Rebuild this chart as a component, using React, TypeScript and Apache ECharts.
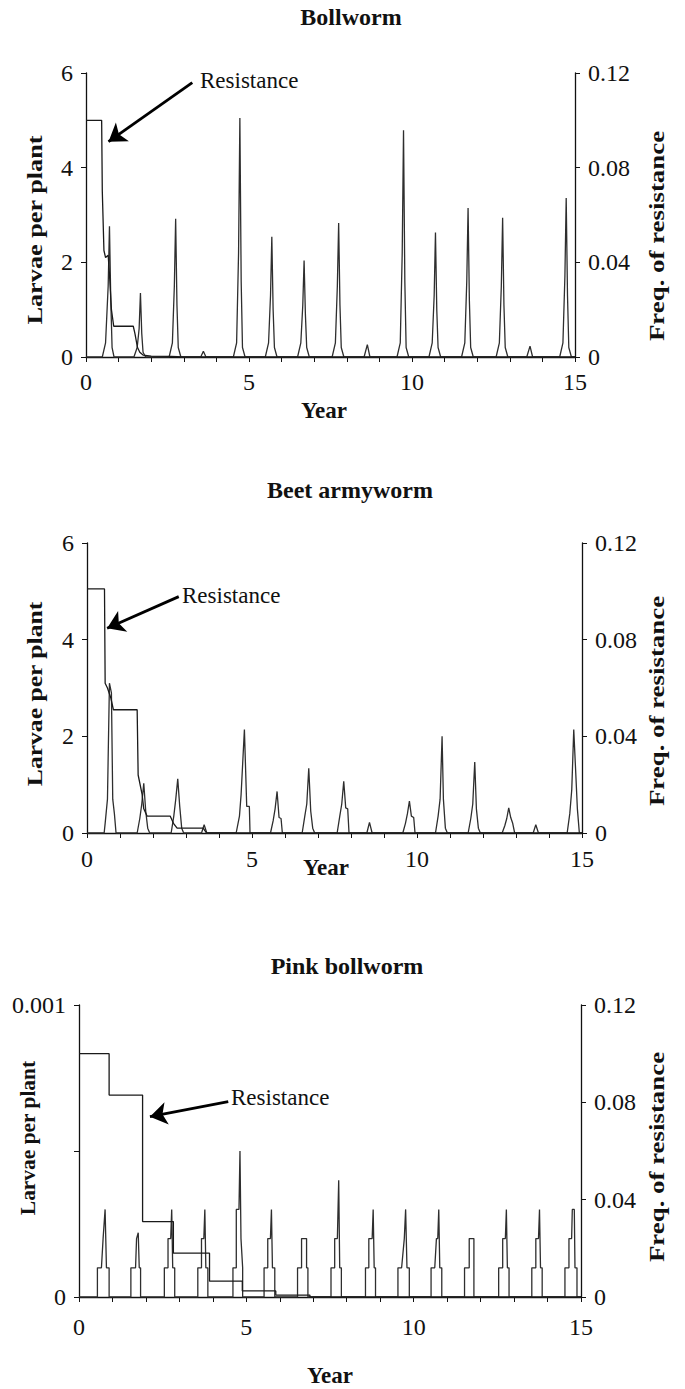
import React, { useEffect, useRef } from "react";
import * as echarts from "echarts";

const FONT = "Liberation Serif";

const panelTitles = ["Bollworm", "Beet armyworm", "Pink bollworm"];
const xTickLabels = [0, 5, 10, 15];
const rightTicks = [0, 0.04, 0.08, 0.12];

// Bollworm larvae per plant [year, larvae]
const bollwormLarvae: number[][] = [
  [0, 0], [0.5, 0], [0.6, 0.3], [0.68, 1.5], [0.72, 2.76], [0.76, 1.2], [0.8, 0.2], [0.86, 0],
  [1.47, 0], [1.57, 0.2], [1.63, 0.6], [1.67, 1.35], [1.71, 0.5], [1.75, 0.1], [1.83, 0],
  [2.55, 0], [2.65, 0.3], [2.71, 1.5], [2.75, 2.92], [2.79, 1.1], [2.83, 0.2], [2.91, 0],
  [3.52, 0], [3.6, 0.12], [3.68, 0],
  [4.52, 0], [4.62, 0.3], [4.68, 2.2], [4.72, 5.05], [4.76, 1.6], [4.8, 0.2], [4.88, 0],
  [5.5, 0], [5.6, 0.3], [5.66, 1.3], [5.7, 2.54], [5.74, 1.0], [5.78, 0.2], [5.86, 0],
  [6.49, 0], [6.59, 0.3], [6.65, 1.1], [6.69, 2.04], [6.73, 0.9], [6.77, 0.2], [6.85, 0],
  [7.55, 0], [7.65, 0.3], [7.71, 1.5], [7.75, 2.83], [7.79, 1.1], [7.83, 0.2], [7.91, 0],
  [8.53, 0], [8.63, 0.26], [8.71, 0],
  [9.54, 0], [9.64, 0.3], [9.7, 2.2], [9.74, 4.79], [9.78, 1.6], [9.82, 0.2], [9.9, 0],
  [10.52, 0], [10.62, 0.3], [10.68, 1.3], [10.72, 2.63], [10.76, 1.0], [10.8, 0.2], [10.88, 0],
  [11.52, 0], [11.62, 0.3], [11.68, 1.6], [11.72, 3.15], [11.76, 1.2], [11.8, 0.2], [11.88, 0],
  [12.58, 0], [12.68, 0.3], [12.74, 1.5], [12.78, 2.94], [12.82, 1.1], [12.86, 0.2], [12.94, 0],
  [13.52, 0], [13.62, 0.23], [13.7, 0],
  [14.53, 0], [14.63, 0.3], [14.69, 1.7], [14.73, 3.36], [14.77, 1.3], [14.81, 0.2], [14.89, 0], [15, 0],
];

// Bollworm frequency of resistance [year, freq]
const bollwormResistance: number[][] = [
  [0, 0.1], [0.48, 0.1], [0.5, 0.07], [0.55, 0.045], [0.6, 0.042], [0.68, 0.043], [0.72, 0.035],
  [0.78, 0.02], [0.85, 0.013], [1.45, 0.013], [1.5, 0.01], [1.58, 0.004], [1.65, 0.002],
  [1.75, 0.0008], [2.0, 0.0004], [2.6, 0.0003], [3.0, 0], [15, 0],
];

// Beet armyworm larvae per plant
const beetLarvae: number[][] = [
  [0, 0], [0.52, 0], [0.55, 0.2], [0.62, 0.7], [0.68, 3.1], [0.74, 2.9], [0.78, 0.7], [0.83, 0.4], [0.88, 0],
  [1.52, 0], [1.6, 0.3], [1.66, 0.6], [1.72, 1.03], [1.78, 0.45], [1.84, 0.1], [1.9, 0],
  [2.55, 0], [2.63, 0.35], [2.69, 0.7], [2.75, 1.12], [2.81, 0.55], [2.87, 0.1], [2.93, 0],
  [3.47, 0], [3.55, 0.17], [3.63, 0],
  [4.52, 0], [4.62, 0.35], [4.67, 0.8], [4.77, 2.14], [4.84, 0.55], [4.92, 0.55], [4.94, 0],
  [5.56, 0], [5.64, 0.25], [5.7, 0.5], [5.76, 0.86], [5.82, 0.32], [5.88, 0.3], [5.92, 0],
  [6.52, 0], [6.6, 0.35], [6.66, 0.6], [6.72, 1.34], [6.78, 0.45], [6.84, 0.1], [6.9, 0],
  [7.58, 0], [7.66, 0.35], [7.72, 0.6], [7.78, 1.07], [7.84, 0.52], [7.9, 0.5], [7.94, 0],
  [8.48, 0], [8.56, 0.22], [8.64, 0],
  [9.57, 0], [9.65, 0.2], [9.71, 0.4], [9.77, 0.66], [9.83, 0.35], [9.9, 0.32], [9.94, 0],
  [10.56, 0], [10.64, 0.35], [10.7, 0.7], [10.76, 2.0], [10.8, 0.7], [10.86, 0.1], [10.92, 0],
  [11.55, 0], [11.63, 0.3], [11.69, 0.6], [11.75, 1.47], [11.8, 0.5], [11.86, 0.1], [11.92, 0],
  [12.58, 0], [12.66, 0.15], [12.72, 0.3], [12.78, 0.52], [12.84, 0.32], [12.9, 0.2], [12.96, 0],
  [13.52, 0], [13.6, 0.17], [13.68, 0],
  [14.55, 0], [14.63, 0.4], [14.69, 0.9], [14.75, 2.14], [14.8, 1.4], [14.86, 0.5], [14.92, 0], [15, 0],
];

// Beet armyworm frequency of resistance
const beetResistance: number[][] = [
  [0, 0.101], [0.53, 0.101], [0.55, 0.062], [0.62, 0.06], [0.72, 0.056], [0.8, 0.051],
  [1.52, 0.051], [1.55, 0.024], [1.67, 0.016], [1.72, 0.01], [1.82, 0.007], [2.52, 0.007],
  [2.62, 0.004], [2.73, 0.002], [3.52, 0.002], [3.62, 0], [15, 0],
];

// Pink bollworm larvae per plant
const pinkLarvae: number[][] = [
  [0, 0], [0.55, 0], [0.55, 1e-4], [0.67, 1e-4], [0.72, 2e-4], [0.78, 3e-4], [0.82, 1e-4], [0.9, 1e-4], [0.9, 0],
  [1.55, 0], [1.55, 1e-4], [1.69, 1e-4], [1.72, 2e-4], [1.77, 2.2e-4], [1.8, 1e-4], [1.84, 1e-4], [1.84, 0],
  [2.55, 0], [2.55, 1e-4], [2.66, 1e-4], [2.66, 2e-4], [2.74, 2e-4], [2.77, 3e-4], [2.8, 1e-4], [2.86, 1e-4], [2.86, 0],
  [3.55, 0], [3.55, 1e-4], [3.66, 1e-4], [3.66, 2e-4], [3.73, 2e-4], [3.76, 3e-4], [3.79, 1e-4], [3.85, 1e-4], [3.85, 0],
  [4.6, 0], [4.6, 1e-4], [4.7, 1e-4], [4.7, 3e-4], [4.78, 3e-4], [4.81, 5e-4], [4.84, 2e-4], [4.89, 1e-4], [4.89, 0],
  [5.53, 0], [5.53, 1e-4], [5.64, 1e-4], [5.64, 2e-4], [5.72, 2e-4], [5.75, 3e-4], [5.78, 1e-4], [5.85, 1e-4], [5.85, 0],
  [6.53, 0], [6.53, 1e-4], [6.65, 1e-4], [6.65, 2e-4], [6.8, 2e-4], [6.8, 1e-4], [6.84, 1e-4], [6.84, 0],
  [7.53, 0], [7.53, 1e-4], [7.64, 1e-4], [7.64, 2e-4], [7.72, 2e-4], [7.76, 4e-4], [7.79, 1e-4], [7.84, 1e-4], [7.84, 0],
  [8.56, 0], [8.56, 1e-4], [8.66, 1e-4], [8.66, 2e-4], [8.76, 2e-4], [8.79, 3e-4], [8.82, 1e-4], [8.86, 1e-4], [8.86, 0],
  [9.53, 0], [9.53, 1e-4], [9.64, 1e-4], [9.72, 2e-4], [9.76, 3e-4], [9.8, 1e-4], [9.87, 1e-4], [9.87, 0],
  [10.52, 0], [10.52, 1e-4], [10.63, 1e-4], [10.68, 2e-4], [10.72, 2e-4], [10.75, 3e-4], [10.78, 1e-4], [10.84, 1e-4], [10.84, 0],
  [11.52, 0], [11.52, 1e-4], [11.66, 1e-4], [11.66, 2e-4], [11.8, 2e-4], [11.8, 0],
  [12.54, 0], [12.54, 1e-4], [12.66, 1e-4], [12.66, 2e-4], [12.74, 2e-4], [12.77, 3e-4], [12.8, 1e-4], [12.85, 1e-4], [12.85, 0],
  [13.53, 0], [13.53, 1e-4], [13.65, 1e-4], [13.65, 2e-4], [13.73, 2e-4], [13.76, 3e-4], [13.79, 1e-4], [13.84, 1e-4], [13.84, 0],
  [14.52, 0], [14.52, 1e-4], [14.64, 1e-4], [14.64, 2e-4], [14.72, 2e-4], [14.74, 3e-4], [14.8, 3e-4], [14.82, 1e-4], [14.88, 1e-4], [14.88, 0], [15, 0],
];

// Pink bollworm frequency of resistance
const pinkResistance: number[][] = [
  [0, 0.1], [0.9, 0.1], [0.9, 0.083], [1.9, 0.083], [1.9, 0.031], [2.82, 0.031], [2.82, 0.018],
  [3.9, 0.018], [3.9, 0.0065], [4.88, 0.0065], [4.88, 0.0025], [5.88, 0.0025], [5.88, 0.0008],
  [6.9, 0.0008], [6.9, 0], [15, 0],
];

// Annotation arrows in data coords (year, freq): [tail, head]
const arrows: number[][][] = [
  [[3.26, 0.1159], [0.69, 0.091]],
  [[2.78, 0.0978], [0.61, 0.0847]],
  [[4.46, 0.0803], [2.12, 0.0741]],
];

const grids = [
  { left: 86, top: 73, width: 489, height: 284 },
  { left: 87, top: 543, width: 495, height: 290 },
  { left: 79, top: 1005, width: 502, height: 292 },
];

const leftAxes = [
  { min: 0, max: 6, interval: 2 },
  { min: 0, max: 6, interval: 2 },
  { min: 0, max: 0.001, interval: 0.0005 },
];

const TXT = "#111";

export default function App() {
  const ref = useRef<HTMLDivElement>(null);
  useEffect(() => {
    if (!ref.current) return;
    const chart = echarts.init(ref.current, undefined, { renderer: "svg" });
    const larvae = [bollwormLarvae, beetLarvae, pinkLarvae];
    const resist = [bollwormResistance, beetResistance, pinkResistance];
    const xMargins = [13, 14, 18];

    const xAxis = grids.map((_, i) => ({
      gridIndex: i,
      type: "value",
      min: 0,
      max: 15,
      interval: 1,
      axisLine: { lineStyle: { color: TXT, width: 1.3 } },
      axisTick: { length: 5, lineStyle: { color: TXT } },
      axisLabel: {
        formatter: (v: number) => (xTickLabels.includes(v) ? String(v) : ""),
        fontFamily: FONT,
        fontSize: 24,
        color: TXT,
        margin: xMargins[i],
        showMinLabel: true,
        showMaxLabel: true,
      },
      splitLine: { show: false },
    }));

    const yAxis: any[] = [];
    grids.forEach((_, i) => {
      const la = leftAxes[i];
      yAxis.push({
        gridIndex: i,
        type: "value",
        position: "left",
        min: la.min,
        max: la.max,
        interval: la.interval,
        axisLine: { show: true, lineStyle: { color: TXT, width: 1.3 } },
        axisTick: { show: true, length: 5, lineStyle: { color: TXT } },
        axisLabel: {
          fontFamily: FONT,
          fontSize: 24,
          color: TXT,
          margin: 13,
          showMinLabel: true,
          showMaxLabel: true,
          formatter: (v: number) => {
            if (i === 2) {
              if (Math.abs(v) < 1e-12) return "0";
              if (Math.abs(v - 0.001) < 1e-9) return "0.001";
              return "";
            }
            return String(Math.round(v));
          },
        },
        splitLine: { show: false },
      });
      yAxis.push({
        gridIndex: i,
        type: "value",
        position: "right",
        min: 0,
        max: 0.12,
        interval: 0.04,
        axisLine: { show: true, lineStyle: { color: TXT, width: 1.3 } },
        axisTick: { show: true, length: 5, lineStyle: { color: TXT } },
        axisLabel: {
          fontFamily: FONT,
          fontSize: 24,
          color: TXT,
          margin: 13,
          showMinLabel: true,
          showMaxLabel: true,
          formatter: (v: number) => {
            const hit = rightTicks.find((t) => Math.abs(t - v) < 1e-9);
            if (hit === undefined) return "";
            return hit === 0 ? "0" : hit.toFixed(2);
          },
        },
        splitLine: { show: false },
      });
    });

    const series: any[] = [];
    grids.forEach((_, i) => {
      series.push({
        type: "line",
        xAxisIndex: i,
        yAxisIndex: i * 2,
        data: larvae[i],
        symbol: "none",
        silent: true,
        lineStyle: { color: "#2e2e2e", width: 1.3 },
        z: 2,
      });
      series.push({
        type: "line",
        xAxisIndex: i,
        yAxisIndex: i * 2 + 1,
        data: resist[i],
        symbol: "none",
        silent: true,
        lineStyle: { color: "#1a1a1a", width: 1.3 },
        z: 3,
        markLine: {
          silent: true,
          symbol: ["none", "arrow"],
          symbolSize: 17,
          label: { show: false },
          lineStyle: { color: "#000", width: 2.8, type: "solid" },
          itemStyle: { color: "#000" },
          emphasis: { disabled: true },
          data: [[{ coord: arrows[i][0] }, { coord: arrows[i][1] }]],
        },
      });
    });

    const titlePos = [
      [351, 17],
      [350, 490],
      [347, 966],
    ];
    const yearPos = [
      [324, 410],
      [326, 867],
      [330, 1375],
    ];
    const resistTextPos = [
      [200, 80],
      [182, 595],
      [231, 1097],
    ];
    const leftNamePos = [
      [35, 230],
      [35, 694],
      [28, 1138],
    ];
    const leftNameScale = [1.25, 1.22, 1.02];
    const rightNamePos = [
      [657, 236],
      [657, 701],
      [657, 1157],
    ];

    const txt = (
      x: number,
      y: number,
      text: string,
      size: number,
      bold: boolean,
      align: string,
      extra: any = {}
    ) => ({
      type: "text",
      x,
      y,
      ...extra,
      style: {
        text,
        fontFamily: FONT,
        fontSize: size,
        fontWeight: bold ? "bold" : "normal",
        fill: TXT,
        align,
        verticalAlign: "middle",
      },
    });

    const graphic: any[] = [];
    grids.forEach((_, i) => {
      graphic.push(txt(titlePos[i][0], titlePos[i][1], panelTitles[i], 24, true, "center"));
      graphic.push(txt(yearPos[i][0], yearPos[i][1], "Year", 23, true, "center"));
      graphic.push(txt(resistTextPos[i][0], resistTextPos[i][1], "Resistance", 23, false, "left"));
      graphic.push(
        txt(leftNamePos[i][0], leftNamePos[i][1], "Larvae per plant", 21, true, "center", {
          rotation: Math.PI / 2,
          scaleX: leftNameScale[i],
        })
      );
      graphic.push(
        txt(rightNamePos[i][0], rightNamePos[i][1], "Freq. of resistance", 21, true, "center", {
          rotation: Math.PI / 2,
          scaleX: 1.28,
        })
      );
    });

    chart.setOption({
      animation: false,
      backgroundColor: "#fff",
      grid: grids,
      xAxis,
      yAxis,
      series,
      graphic,
    });
    return () => chart.dispose();
  }, []);

  return (
    <div
      ref={ref}
      style={{ position: "absolute", left: 0, top: 0, width: 685, height: 1389 }}
    />
  );
}
